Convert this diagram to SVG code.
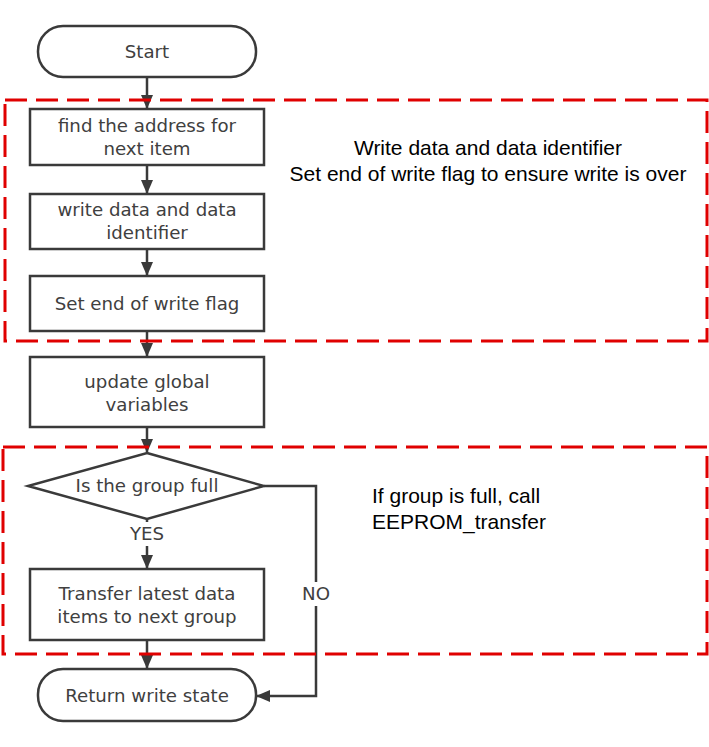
<svg xmlns="http://www.w3.org/2000/svg" width="709" height="747" viewBox="0 0 709 747">
<style>
.n{fill:#fff;stroke:#3a3a3a;stroke-width:2.5}
.t{font-family:"DejaVu Sans","Noto Sans",sans-serif;font-size:18.2px;fill:#404040;text-anchor:middle}
.r{font-family:"Liberation Sans",Arial,sans-serif;font-size:21px;fill:#000}
.c{fill:none;stroke:#3a3a3a;stroke-width:2.5}
.d{fill:none;stroke:#e00000;stroke-width:3;stroke-dasharray:22 9}
</style>
<defs>
<marker id="b" markerWidth="14" markerHeight="14" refX="13" refY="7" orient="auto" markerUnits="userSpaceOnUse" viewBox="0 0 14 14">
<path d="M0,1 L14,7 L0,13 z" fill="#3a3a3a"/>
</marker>
</defs>
<rect width="709" height="747" fill="#fff"/>
<g id="connectors">
<path class="c" d="M147,77 V108" marker-end="url(#b)"/>
<path class="c" d="M147,165 V193" marker-end="url(#b)"/>
<path class="c" d="M147,249 V275" marker-end="url(#b)"/>
<path class="c" d="M147,331 V356" marker-end="url(#b)"/>
<path class="c" d="M147,427 V452" marker-end="url(#b)"/>
<path class="c" d="M147,519 V568" marker-end="url(#b)"/>
<path class="c" d="M147,640 V668" marker-end="url(#b)"/>
<path class="c" d="M264,486 H316 V696 H257" marker-end="url(#b)"/>
<rect x="128" y="522" width="38" height="24" fill="#fff"/>
<text class="t" x="147" y="540">YES</text>
<rect x="298" y="582" width="36" height="24" fill="#fff"/>
<text class="t" x="316" y="600">NO</text>
</g>
<g id="start"><rect class="n" x="38" y="26" width="218" height="51" rx="25"/><text class="t" x="147" y="58">Start</text></g>
<g id="find"><rect class="n" x="30" y="109" width="234" height="56"/><text class="t" x="147" y="132">find the address for</text><text class="t" x="147" y="155">next item</text></g>
<g id="write"><rect class="n" x="30" y="194" width="234" height="55"/><text class="t" x="147" y="216">write data and data</text><text class="t" x="147" y="239">identifier</text></g>
<g id="flag"><rect class="n" x="30" y="276" width="234" height="55"/><text class="t" x="147" y="310">Set end of write flag</text></g>
<g id="update"><rect class="n" x="30" y="357" width="234" height="70"/><text class="t" x="147" y="388">update global</text><text class="t" x="147" y="411">variables</text></g>
<g id="decision"><path class="n" d="M147,453 L264,486 L147,519 L28,486 Z"/><text class="t" x="147" y="492">Is the group full</text></g>
<g id="transfer"><rect class="n" x="30" y="569" width="234" height="71"/><text class="t" x="147" y="600">Transfer latest data</text><text class="t" x="147" y="623">items to next group</text></g>
<g id="return"><rect class="n" x="38" y="669" width="218" height="52" rx="25"/><text class="t" x="147" y="702">Return write state</text></g>
<g id="region1"><rect class="d" x="5" y="100" width="702" height="241"/><text class="r" x="488" y="155" text-anchor="middle">Write data and data identifier</text><text class="r" x="488" y="181" text-anchor="middle">Set end of write flag to ensure write is over</text></g>
<g id="region2"><rect class="d" x="3" y="447" width="704" height="207"/><text class="r" x="372" y="503">If group is full, call</text><text class="r" x="372" y="529">EEPROM_transfer</text></g>
</svg>
